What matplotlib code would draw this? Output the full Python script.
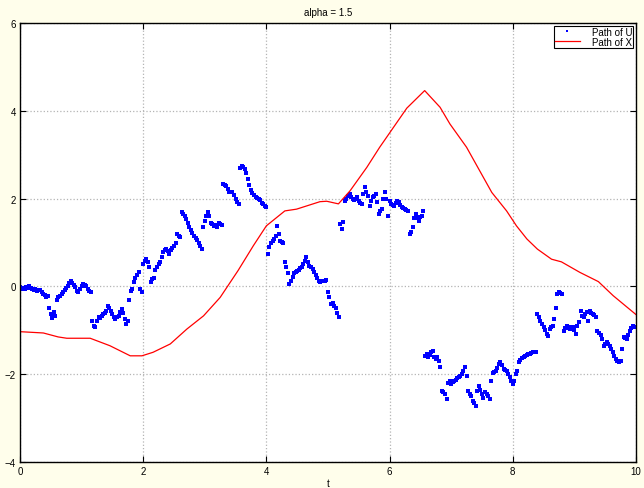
import matplotlib
matplotlib.use("Agg")
import matplotlib.pyplot as plt
import numpy as np

plt.rcParams['font.family'] = ['Liberation Sans', 'DejaVu Sans']

# path of U, sampled every 0.025 from t = 0 (one row per unit of t)
u_vals = [
    -0.02, -0.06, -0.03, -0.05, -0.02, -0.04, 0.00, -0.03, -0.05, -0.08,
    -0.06, -0.10, -0.07, -0.09, -0.13, -0.17, -0.20, -0.25, -0.21, -0.50,
    -0.62, -0.72, -0.58, -0.67, -0.30, -0.25, -0.22, -0.18, -0.13, -0.08,
    -0.04, 0.02, 0.07, 0.13, 0.08, 0.03, -0.02, -0.10, -0.13, -0.05,
    # 1
    0.02, 0.05, 0.03, 0.02, -0.05, -0.10, -0.13, -0.78, -0.90, -0.93,
    -0.78, -0.70, -0.72, -0.67, -0.63, -0.60, -0.55, -0.44, -0.50, -0.55,
    -0.62, -0.70, -0.74, -0.70, -0.67, -0.58, -0.51, -0.60, -0.74, -0.86,
    -0.78, -0.30, -0.10, -0.05, 0.09, 0.20, 0.26, 0.32, -0.06, -0.12,
    # 2
    0.51, 0.58, 0.62, 0.55, 0.45, 0.09, 0.17, 0.20, 0.38, 0.45,
    0.51, 0.55, 0.68, 0.78, 0.82, 0.85, 0.80, 0.74, 0.82, 0.88,
    0.93, 1.00, 1.19, 1.15, 1.12, 1.69, 1.65, 1.60, 1.54, 1.45,
    1.35, 1.28, 1.22, 1.15, 1.10, 1.05, 0.98, 0.93, 0.85, 1.35,
    # 3
    1.50, 1.60, 1.69, 1.60, 1.45, 1.42, 1.38, 1.40, 1.36, 1.44,
    1.42, 1.40, 2.33, 2.30, 2.29, 2.22, 2.14, 2.16, 2.14, 2.08,
    1.99, 1.92, 1.88, 2.70, 2.75, 2.72, 2.67, 2.58, 2.45, 2.30,
    2.20, 2.12, 2.08, 2.03, 2.02, 1.99, 1.97, 1.90, 1.88, 1.84,
    # 4
    1.80, 0.74, 0.90, 1.00, 1.04, 1.08, 1.15, 1.38, 1.20, 1.04,
    1.02, 1.00, 0.55, 0.45, 0.30, 0.05, 0.12, 0.22, 0.30, 0.34,
    0.36, 0.38, 0.43, 0.45, 0.52, 0.59, 0.66, 0.55, 0.47, 0.45,
    0.40, 0.33, 0.26, 0.20, 0.13, 0.11, 0.13, 0.12, 0.13, 0.14,
    # 5
    -0.13, -0.25, -0.40, -0.38, -0.45, -0.50, -0.60, -0.70, 1.42, 1.31,
    1.46, 1.95, 1.99, 2.05, 2.10, 2.04, 2.00, 1.97, 1.99, 2.03,
    1.95, 1.90, 1.88, 2.10, 2.26, 2.15, 2.07, 1.84, 1.95, 2.03,
    2.06, 2.10, 1.92, 1.65, 1.72, 1.76, 2.00, 2.14, 2.00, 1.61,
    # 6
    1.95, 1.88, 1.86, 1.84, 1.90, 1.95, 1.92, 1.85, 1.80, 1.78,
    1.76, 1.74, 1.72, 1.19, 1.25, 1.35, 1.55, 1.65, 1.55, 1.50,
    1.58, 1.61, 1.72, -1.58, -1.55, -1.61, -1.56, -1.50, -1.46, -1.60,
    -1.65, -1.61, -1.70, -1.84, -2.38, -2.40, -2.45, -2.56, -2.20, -2.15,
    # 7
    -2.22, -2.18, -2.15, -2.12, -2.08, -2.07, -2.03, -2.00, -1.92, -1.84,
    -2.03, -2.38, -2.45, -2.50, -2.60, -2.66, -2.72, -2.38, -2.26, -2.35,
    -2.45, -2.55, -2.41, -2.45, -2.50, -2.56, -2.15, -1.96, -1.94, -1.92,
    -1.85, -1.77, -1.73, -1.80, -1.88, -1.90, -1.92, -2.00, -2.07, -2.15,
    # 8
    -2.22, -2.15, -2.00, -1.92, -1.73, -1.68, -1.64, -1.61, -1.58, -1.57,
    -1.55, -1.54, -1.52, -1.50, -1.50, -1.50, -0.63, -0.70, -0.78, -0.85,
    -0.93, -1.00, -1.08, -1.12, -0.97, -0.92, -0.90, -0.74, -0.48, -0.17,
    -0.13, -0.15, -0.17, -1.01, -0.95, -0.90, -0.95, -0.97, -0.92, -0.93,
    # 9
    -1.00, -1.08, -0.90, -0.80, -0.55, -0.68, -0.70, -0.62, -0.59, -0.78,
    -0.55, -0.60, -0.63, -0.66, -0.70, -1.01, -1.05, -1.10, -1.20, -1.35,
    -1.30, -1.27, -1.32, -1.35, -1.42, -1.50, -1.58, -1.65, -1.70, -1.73,
    -1.69, -1.43, -1.16, -1.18, -1.20, -1.10, -1.01, -0.95, -0.90, -0.93,
]
u_t = np.arange(len(u_vals)) * 0.025

# path of X
x_t = [0, 0.38, 0.62, 0.76, 1.14, 1.46, 1.79, 1.98, 2.16, 2.44,
       2.71, 2.98, 3.25, 3.54, 3.79, 4.0, 4.3, 4.49, 4.87, 4.98,
       5.17, 5.36, 5.63, 5.84, 6.28, 6.57, 6.82, 6.98, 7.25, 7.66,
       7.9, 8.06, 8.23, 8.4, 8.63, 8.79, 9.09, 9.39, 9.63, 10.0]
x_vals = [-1.03, -1.06, -1.15, -1.18, -1.18, -1.35, -1.58, -1.58, -1.5, -1.31,
          -0.97, -0.67, -0.25, 0.36, 0.93, 1.38, 1.72, 1.76, 1.93, 1.94,
          1.88, 2.18, 2.71, 3.17, 4.06, 4.46, 4.08, 3.7, 3.17, 2.14,
          1.72, 1.38, 1.08, 0.85, 0.62, 0.56, 0.32, 0.11, -0.21, -0.64]

fig = plt.figure(figsize=(6.44, 4.89), dpi=100, facecolor='#fffeeb')
ax = fig.add_axes([0.031, 0.053, 0.9565, 0.898])
ax.set_facecolor('white')

ax.plot(u_t, u_vals, linestyle='none', marker='s', markersize=2.2,
        markeredgewidth=0, color='#0000ff', label='Path of U')
ax.plot(x_t, x_vals, color='#ff0000', linewidth=0.9, label='Path of X')

ax.set_xlim(0, 10)
ax.set_ylim(-4, 6)
ax.set_xticks([0, 2, 4, 6, 8, 10])
ax.set_yticks([-4, -2, 0, 2, 4, 6])
ax.grid(True, linestyle=':', color='#b4b4b4', linewidth=0.9)
ax.tick_params(direction='in', length=4, width=0.8, labelsize=7,
               top=True, right=True, pad=3)
for s in ax.spines.values():
    s.set_linewidth(1.0)

ax.set_title('alpha = 1.5', fontsize=7, pad=6)
ax.set_xlabel('t', fontsize=7, labelpad=1)

leg = ax.legend(loc='upper right', fontsize=7, fancybox=False,
                edgecolor='black', framealpha=1, borderpad=0.1,
                labelspacing=0.0, handlelength=2.6, handletextpad=1.2,
                borderaxespad=0.3, markerscale=0.8)
leg.get_frame().set_linewidth(0.8)

fig.savefig('out.png', dpi=100, facecolor=fig.get_facecolor())
